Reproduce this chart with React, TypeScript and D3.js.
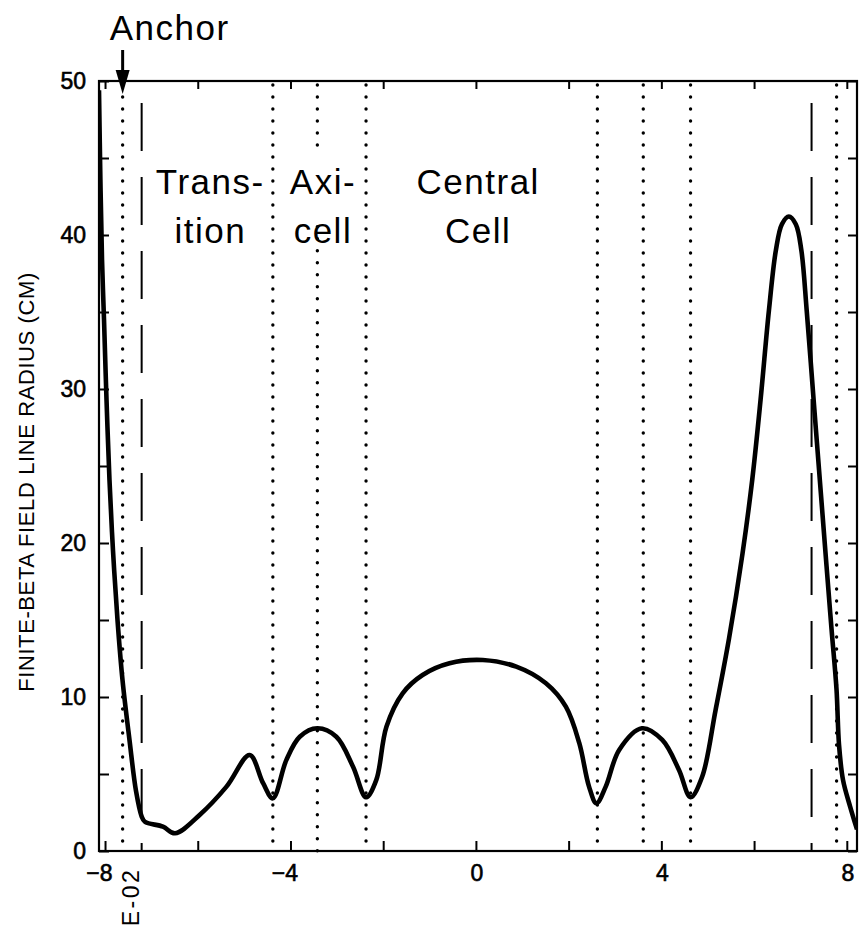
import React, { useEffect, useRef } from "react";
import * as d3 from "d3";

// field line radius along the axis
const curveX = [
  -8.13, -8.1, -8.065, -8.022, -7.968, -7.904, -7.828, -7.731, -7.623, -7.472, -7.332, -7.213,
  -7.14, -6.75, -6.49,
  -5.96, -5.38, -4.88, -4.59, -4.38, -4.09, -3.8, -3.42, -3.01, -2.65, -2.37, -2.15, -1.93,
  -1.58, -1.15, -0.57, 0.15, 0.87, 1.51, 1.94, 2.23, 2.44, 2.6, 2.8, 3.09, 3.58, 4.02, 4.38,
  4.63, 4.88, 5.17, 5.46, 5.75, 5.96, 6.14, 6.32, 6.47, 6.6, 6.75, 6.9, 7.02, 7.135, 7.284,
  7.418, 7.563, 7.671, 7.778, 7.832, 7.919, 8.07, 8.22,
];
const curveY = [
  49.4, 43.6, 38.4, 34.5, 29.3, 24.1, 19.5, 15.0, 11.1, 7.2, 3.9, 2.27,
  1.9, 1.58, 1.15,
  2.34, 4.18, 6.23, 4.4, 3.42, 5.9, 7.42, 7.97, 7.42, 5.47, 3.49, 4.6, 8.07,
  10.24, 11.43, 12.19, 12.4, 11.97, 10.89, 9.37, 7.0, 4.18, 3.1, 4.18, 6.56, 7.97, 7.21, 5.26,
  3.49, 4.82, 9.16, 13.8, 19.3, 24.1, 29.3, 35.1, 39.0, 40.7, 41.2, 40.7, 39.0, 35.1, 29.3,
  24.1, 18.5, 14.4, 10.5, 6.9, 4.6, 2.9, 1.4,
];

// region boundaries
const dottedAt = [-7.62, -4.38, -3.42, -2.37, 2.62, 3.61, 4.63, 7.78];
const dashedAt = [-7.21, 7.24];
const anchorAt = -7.62;

// region names and where they sit
const regionLines = [["Trans-", "ition"], ["Axi-", "cell"], ["Central", "Cell"]];
const regionCenters = [-5.73, -3.3, 0.05];

const xTicks = [-8, -6, -4, -2, 0, 2, 4, 6, 8];
const xLabels = [-8, -4, 0, 4, 8];
const yTicks = [0, 5, 10, 15, 20, 25, 30, 35, 40, 45, 50];
const yLabels = [0, 10, 20, 30, 40, 50];

const FONT = "'Liberation Sans', Arial, Helvetica, sans-serif";

const App = () => {
  const ref = useRef<SVGSVGElement | null>(null);

  useEffect(() => {
    const width = 859;
    const height = 940;
    const left = 99, right = 857, top = 81, bottom = 851;

    const x = d3.scaleLinear().domain([-8.13, 8.22]).range([left, right]);
    const y = d3.scaleLinear().domain([0, 50]).range([bottom, top]);

    const svg = d3.select(ref.current);
    svg.selectAll("*").remove();
    svg.attr("width", width).attr("height", height);

    svg.append("rect").attr("width", width).attr("height", height).attr("fill", "#fff");

    svg
      .append("clipPath")
      .attr("id", "plot-clip")
      .append("rect")
      .attr("x", left)
      .attr("y", top - 1)
      .attr("width", right - left)
      .attr("height", bottom - top + 1);

    // Axes, ticks pointing inward
    const styleAxis = (g: any) => {
      g.select(".domain").remove();
      g.selectAll(".tick line").attr("stroke", "#000").attr("stroke-width", 2);
      g.selectAll("text")
        .attr("fill", "#000")
        .attr("stroke", "#000")
        .attr("stroke-width", 0.6)
        .style("font-family", FONT)
        .style("font-size", "23px");
    };

    svg
      .append("g")
      .attr("transform", `translate(0, ${bottom})`)
      .call(
        d3.axisBottom(x).tickValues(xTicks).tickSize(-10).tickPadding(14)
          .tickFormat((d: any) => (xLabels.includes(d) ? (d < 0 ? "\u2212" + Math.abs(d) : String(d)) : ""))
      )
      .call(styleAxis)
      .selectAll("text")
      .attr("text-anchor", "end")
      .attr("dx", 7);

    svg
      .append("g")
      .attr("transform", `translate(0, ${top})`)
      .call(d3.axisTop(x).tickValues(xTicks).tickSize(-8).tickFormat(() => ""))
      .call(styleAxis);

    svg
      .append("g")
      .attr("transform", `translate(${left}, 0)`)
      .call(
        d3.axisLeft(y).tickValues(yTicks).tickSize(-10).tickPadding(13)
          .tickFormat((d: any) => (yLabels.includes(d) ? String(d) : ""))
      )
      .call(styleAxis);

    svg
      .append("g")
      .attr("transform", `translate(${right}, 0)`)
      .call(d3.axisRight(y).tickValues(yTicks).tickSize(-9).tickFormat(() => ""))
      .call(styleAxis);

    // Frame
    svg
      .append("rect")
      .attr("x", left)
      .attr("y", top)
      .attr("width", right - left)
      .attr("height", bottom - top)
      .attr("fill", "none")
      .attr("stroke", "#000")
      .attr("stroke-width", 2.2);

    // Dotted boundaries (the Axi-cell one breaks around its label)
    dottedAt.forEach((d) => {
      const segs = d === -3.42 ? [[50, 45.6], [40.8, 0]] : [[50, 0]];
      segs.forEach(([a, b]) => {
        svg
          .append("line")
          .attr("x1", x(d))
          .attr("x2", x(d))
          .attr("y1", y(a) + 4)
          .attr("y2", y(b))
          .attr("stroke", "#000")
          .attr("stroke-width", 3.4)
          .attr("stroke-linecap", "round")
          .attr("stroke-dasharray", "0 12");
      });
    });

    // Dashed boundaries
    dashedAt.forEach((d) => {
      svg
        .append("line")
        .attr("x1", x(d))
        .attr("x2", x(d))
        .attr("y1", y(50))
        .attr("y2", y(0))
        .attr("stroke", "#000")
        .attr("stroke-width", 2)
        .attr("stroke-dasharray", "48 26")
        .attr("stroke-dashoffset", -22);
    });

    // Curve
    const pts = curveX.map((v, i) => [v, curveY[i]] as [number, number]);
    const line = d3
      .line<[number, number]>()
      .x((d) => x(d[0]))
      .y((d) => y(d[1]))
      .curve(d3.curveCatmullRom.alpha(0.5));

    svg
      .append("path")
      .attr("d", line(pts))
      .attr("clip-path", "url(#plot-clip)")
      .attr("fill", "none")
      .attr("stroke", "#000")
      .attr("stroke-width", 4.6)
      .attr("stroke-linejoin", "round");

    // Region names
    regionLines.forEach((lines, i) => {
      lines.forEach((t, j) => {
        svg
          .append("text")
          .attr("x", x(regionCenters[i]))
          .attr("y", 194 + j * 49)
          .attr("text-anchor", "middle")
          .style("font-family", FONT)
          .style("font-size", "35px")
          .style("letter-spacing", "1.5px")
          .text(t);
      });
    });

    // Anchor annotation
    const ax = x(anchorAt);
    svg
      .append("text")
      .attr("x", ax + 47)
      .attr("y", 40)
      .attr("text-anchor", "middle")
      .style("font-family", FONT)
      .style("font-size", "35px")
      .style("letter-spacing", "1.5px")
      .text("Anchor");
    svg
      .append("line")
      .attr("x1", ax)
      .attr("x2", ax)
      .attr("y1", 50)
      .attr("y2", 75)
      .attr("stroke", "#000")
      .attr("stroke-width", 3);
    svg
      .append("path")
      .attr("d", `M${ax - 7},70 L${ax + 7},70 L${ax},94 Z`)
      .attr("fill", "#000");

    // Exponent note under the axis
    svg
      .append("text")
      .attr("transform", `translate(139, 897) rotate(-90)`)
      .attr("text-anchor", "middle")
      .style("font-family", FONT)
      .style("font-size", "23px")
      .style("letter-spacing", "2.5px")
      .text("E-02");

    // Y title
    svg
      .append("text")
      .attr("transform", `translate(34, 482) rotate(-90)`)
      .attr("text-anchor", "middle")
      .style("font-family", FONT)
      .style("font-size", "22px")
      .style("letter-spacing", "0.6px")
      .text("FINITE-BETA FIELD LINE RADIUS (CM)");
  }, []);

  return <svg ref={ref} style={{ position: "absolute", left: 0, top: 0, display: "block" }} />;
};

export default App;
